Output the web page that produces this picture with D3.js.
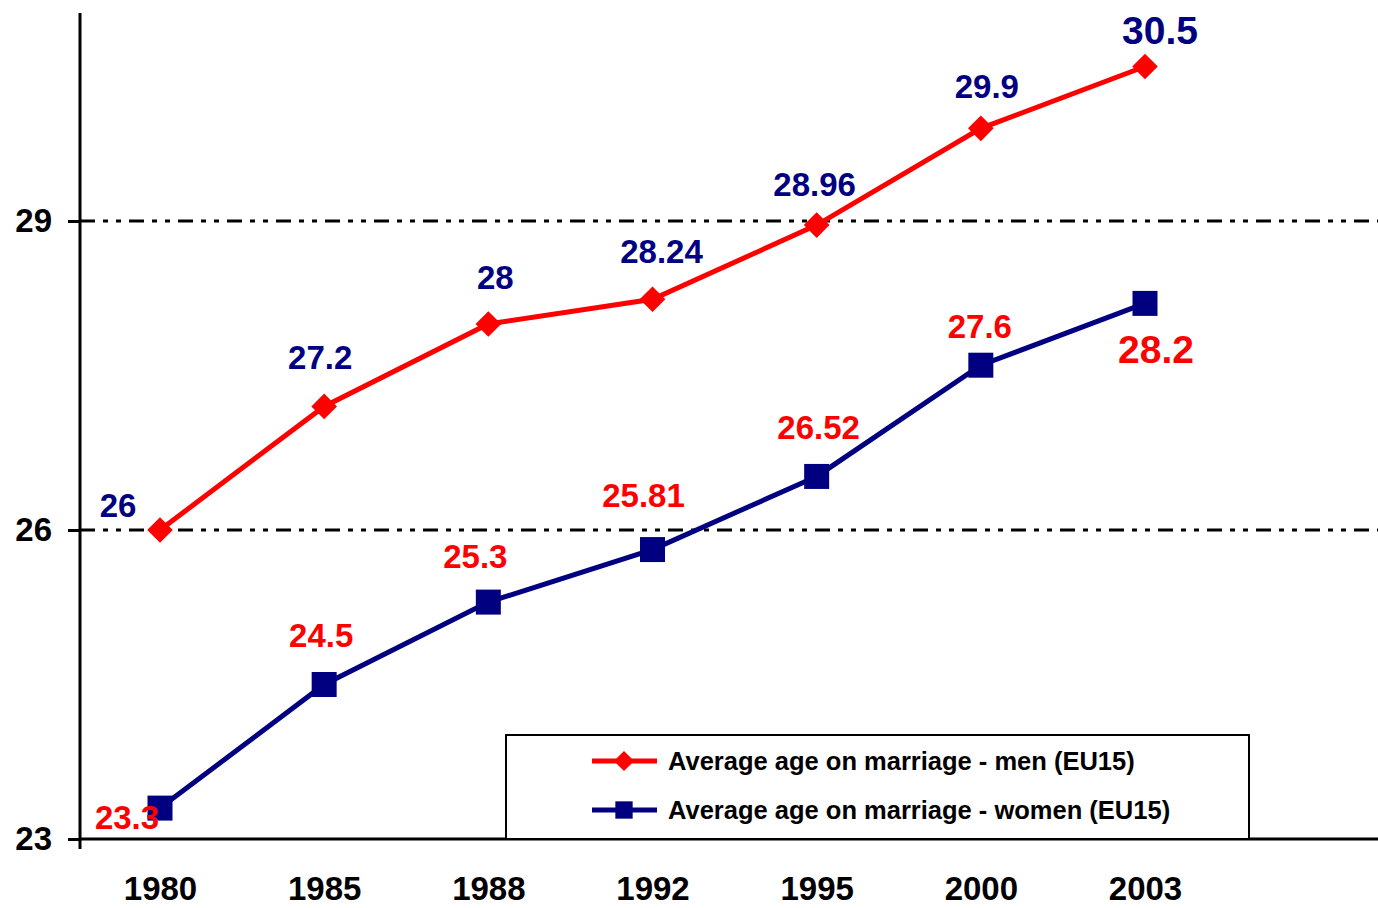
<html>
<head>
    <meta charset="utf-8">
    <title>Average age on marriage</title>
    <script src="https://cdn.jsdelivr.net/npm/d3@7"></script>
    <style>
        body { margin: 0; background: #fff; }
        text { font-family: "Liberation Sans", Arial, sans-serif; font-weight: bold; }
    </style>
</head>
<body>
    <svg id="chart"></svg>
    <script>
        // data
        const years = ['1980', '1985', '1988', '1992', '1995', '2000', '2003'];
        const men = [26, 27.2, 28, 28.24, 28.96, 29.9, 30.5];
        const women = [23.3, 24.5, 25.3, 25.81, 26.52, 27.6, 28.2];
        const yTicks = [23, 26, 29];
        const seriesNames = ['Average age on marriage - men (EU15)', 'Average age on marriage - women (EU15)'];

        // hand placed label offsets (dx, dy from the point), like the original
        const menLabelOffsets = [[-42, -25], [-4, -49], [7, -47], [9, -48], [-2, -41], [6, -42], [15, -36]];
        const womenLabelOffsets = [[-33, 9], [-3, -49], [-13, -46], [-9, -54], [2, -49], [-1, -39], [11, 46]];

        const W = 1378, H = 908;
        const svg = d3.select('#chart').attr('width', W).attr('height', H);

        const x = d3.scalePoint().domain(years).range([160, 1145]);
        const y = d3.scaleLinear().domain([23, 31]).range([839, 15]);

        // dash-dot-dot gridlines
        svg.append('g')
            .selectAll('line')
            .data(yTicks.filter(d => d !== 23))
            .join('line')
            .attr('x1', 80).attr('x2', W)
            .attr('y1', d => y(d)).attr('y2', d => y(d))
            .attr('stroke', '#000')
            .attr('stroke-width', 3)
            .attr('stroke-dasharray', '15,8,5,8,5,8');

        // y axis
        const yAxis = d3.axisLeft(y).tickValues(yTicks).tickSize(12).tickPadding(16).tickFormat(d3.format('d'));
        const gy = svg.append('g').attr('transform', 'translate(80,0)').call(yAxis);
        gy.select('.domain').remove();
        gy.append('line').attr('x1', 0).attr('x2', 0).attr('y1', 13).attr('y2', 849)
            .attr('stroke', '#000').attr('stroke-width', 3);
        gy.selectAll('.tick line').attr('stroke-width', 3);
        gy.selectAll('.tick text').attr('fill', '#000').attr('font-size', 33);

        // x axis
        const xAxis = d3.axisBottom(x).tickSize(0).tickPadding(38);
        const gx = svg.append('g').attr('transform', `translate(0,${y(23)})`).call(xAxis);
        gx.select('.domain').remove();
        gx.append('line').attr('x1', 80).attr('x2', W).attr('y1', 0).attr('y2', 0)
            .attr('stroke', '#000').attr('stroke-width', 3);
        gx.selectAll('.tick text').attr('fill', '#000').attr('font-size', 33);

        const line = d3.line().x((d, i) => x(years[i])).y(d => y(d));
        const diamond = d3.symbol().type(d3.symbolDiamond2).size(420);
        const square = d3.symbol().type(d3.symbolSquare).size(625);

        // legend box
        const lg = svg.append('g');
        lg.append('rect')
            .attr('x', 506).attr('y', 735).attr('width', 743).attr('height', 104)
            .attr('fill', '#fff').attr('stroke', '#000').attr('stroke-width', 2);

        function drawSeries(vals, color, sym, offsets, labelColor) {
            svg.append('path')
                .attr('d', line(vals))
                .attr('fill', 'none')
                .attr('stroke', color)
                .attr('stroke-width', 5);
            svg.append('g').selectAll('path')
                .data(vals)
                .join('path')
                .attr('d', sym)
                .attr('transform', (d, i) => `translate(${x(years[i])},${y(d)})`)
                .attr('fill', color);
            svg.append('g').selectAll('text')
                .data(vals)
                .join('text')
                .attr('x', (d, i) => x(years[i]) + offsets[i][0])
                .attr('y', (d, i) => y(d) + offsets[i][1])
                .attr('text-anchor', 'middle')
                .attr('dominant-baseline', 'central')
                .attr('font-size', (d, i) => i === vals.length - 1 ? 39 : 33)
                .attr('fill', labelColor)
                .text(d => d);
        }

        drawSeries(men, '#ff0000', diamond, menLabelOffsets, '#000080');
        drawSeries(women, '#000080', square, womenLabelOffsets, '#ff0000');

        // legend entries
        const legendRows = [
            { name: seriesNames[0], color: '#ff0000', sym: d3.symbol().type(d3.symbolDiamond2).size(260), ly: 761 },
            { name: seriesNames[1], color: '#000080', sym: d3.symbol().type(d3.symbolSquare).size(300), ly: 810 }
        ];
        legendRows.forEach(r => {
            lg.append('line').attr('x1', 592).attr('x2', 657).attr('y1', r.ly).attr('y2', r.ly)
                .attr('stroke', r.color).attr('stroke-width', 5);
            lg.append('path').attr('d', r.sym())
                .attr('transform', `translate(624,${r.ly})`).attr('fill', r.color);
            lg.append('text').attr('x', 668).attr('y', r.ly).attr('dominant-baseline', 'central')
                .attr('font-size', 25.5).attr('fill', '#000').text(r.name);
        });
        lg.raise();
    </script>
</body>
</html>
